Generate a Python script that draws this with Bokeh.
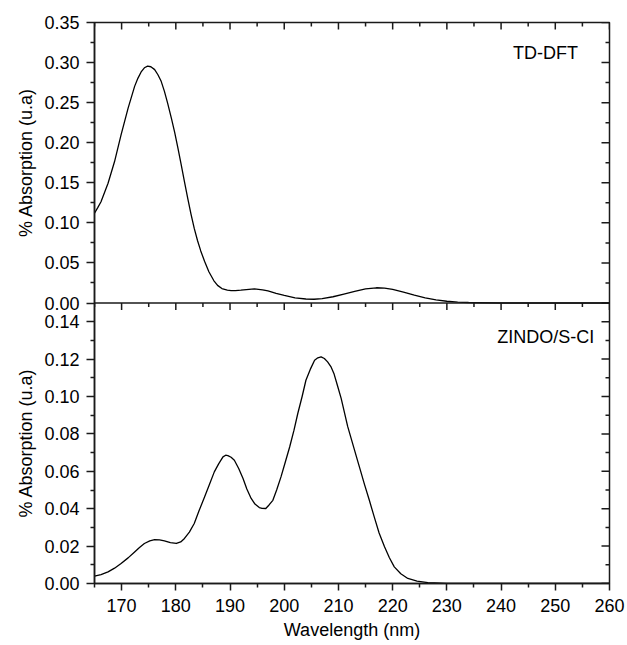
import math
from bokeh.plotting import figure
from bokeh.layouts import row, column
from bokeh.models import Range1d, FixedTicker, CustomJSTickFormatter, Span
from bokeh.embed import file_html
from bokeh.resources import INLINE
from bokeh.core.properties import value

# ---------------- data ----------------
wl_tddft = [165.0, 165.6, 166.2, 167.5, 168.7, 169.9, 171.2, 172.4, 173.0, 173.6,
            174.2, 174.8, 175.4, 176.1, 176.7, 177.3, 177.9, 178.5, 179.2, 179.8,
            180.4, 181.0, 181.6, 182.2, 182.8, 183.4, 184.0, 184.6, 185.3, 186.1,
            187.0, 187.7, 188.5, 189.5, 190.2, 191.0, 192.0, 193.5, 194.5, 196.0,
            197.0, 198.5, 200.0, 202.0, 204.0, 205.5, 207.0, 209.0, 211.0, 213.0,
            215.0, 217.0, 218.5, 220.0, 222.0, 224.0, 226.0, 228.0, 230.0, 232.0,
            234.0, 236.0, 240.0, 260.0]
abs_tddft = [0.112, 0.119, 0.1264, 0.1494, 0.1765, 0.2099, 0.2432, 0.2703, 0.2803, 0.2883,
             0.2935, 0.2955, 0.2948, 0.2912, 0.2848, 0.2766, 0.2640, 0.2490, 0.2300, 0.2125,
             0.1930, 0.1723, 0.151, 0.1306, 0.111, 0.0931, 0.078, 0.065, 0.052, 0.039,
             0.028, 0.022, 0.018, 0.016, 0.0155, 0.0155, 0.016, 0.017, 0.0175, 0.0165,
             0.015, 0.012, 0.0095, 0.0065, 0.005, 0.0047, 0.0055, 0.0078, 0.011, 0.0145,
             0.0175, 0.019, 0.0185, 0.017, 0.0135, 0.0098, 0.0065, 0.004, 0.0022, 0.0012,
             0.0006, 0.0003, 0.0, 0.0]

wl_zindo = [165.0, 166.2, 167.5, 168.7, 169.9, 171.2, 172.4, 173.3, 174.2, 175.2,
            176.1, 177.0, 177.9, 179.0, 180.1, 180.9, 181.6, 182.5, 183.4, 184.3,
            185.3, 186.2, 187.1, 187.9, 188.7, 189.2, 189.6, 190.2, 190.8, 191.6,
            192.4, 193.1, 193.9, 194.6, 195.4, 195.9, 196.6, 197.2, 197.9, 198.6,
            199.4, 200.2, 201.0, 201.8, 202.5, 203.3, 204.0, 204.8, 205.6, 206.2,
            206.8, 207.4, 208.0, 208.6, 209.2, 209.8, 210.5, 211.1, 211.7, 212.3,
            212.9, 213.5, 214.0, 214.8, 215.7, 216.6, 217.5, 218.5, 219.4, 220.3,
            221.5, 222.8, 224.5, 226.5, 230.0, 260.0]
abs_zindo = [0.0039, 0.0048, 0.0062, 0.0082, 0.0107, 0.0137, 0.0169, 0.0193, 0.0214, 0.0228,
             0.0235, 0.0233, 0.0228, 0.0219, 0.0214, 0.0222, 0.0241, 0.0275, 0.0321, 0.039,
             0.0463, 0.053, 0.0597, 0.064, 0.0677, 0.0686, 0.0684, 0.0675, 0.0659, 0.0615,
             0.0561, 0.0505, 0.0455, 0.0425, 0.0406, 0.0402, 0.0401, 0.042, 0.0445, 0.050,
             0.057, 0.065, 0.073, 0.082, 0.0909, 0.100, 0.1087, 0.1145, 0.1194, 0.1207,
             0.1212, 0.1203, 0.1185, 0.1160, 0.1120, 0.106, 0.099, 0.0915, 0.084, 0.078,
             0.072, 0.066, 0.061, 0.053, 0.0445, 0.0356, 0.027, 0.0196, 0.0138, 0.0089,
             0.0052, 0.0027, 0.0013, 0.0005, 0.0, 0.0]

x_major = [170, 180, 190, 200, 210, 220, 230, 240, 250, 260]
x_minor = [165, 175, 185, 195, 205, 215, 225, 235, 245, 255]
top_major = [0.00, 0.05, 0.10, 0.15, 0.20, 0.25, 0.30, 0.35]
top_minor = [0.025, 0.075, 0.125, 0.175, 0.225, 0.275, 0.325]
bot_major = [0.00, 0.02, 0.04, 0.06, 0.08, 0.10, 0.12, 0.14]
bot_minor = [0.01, 0.03, 0.05, 0.07, 0.09, 0.11, 0.13]

x_lo, x_hi = 165, 260
top_max = 0.35
bot_max = 0.15
panel_labels = ["TD-DFT", "ZINDO/S-CI"]
y_title = "% Absorption (u.a)"
x_title = "Wavelength (nm)"

# ---------------- layout: one frame, two stacked panels ----------------
# virtual main range: bottom panel occupies [0, 1], top panel [1, 2]
boundary = 1.0
FONT = "Liberation Sans"
AX = "#1a1a1a"
H = 645
BT, BB = 22, 62          # top / bottom borders of the main frame
TW = 40                  # width of the y-title strip
FH = H - BT - BB         # frame height

p = figure(width=627 - TW, height=H, x_range=Range1d(x_lo, x_hi),
           y_range=Range1d(0, 2 * boundary), output_backend="svg",
           toolbar_location=None, tools="",
           min_border_left=94 - TW, min_border_right=18, min_border_top=BT,
           min_border_bottom=BB)
p.extra_y_ranges = {
    "top": Range1d(-top_max, top_max),
    "bot": Range1d(0, 2 * bot_max),
}
p.grid.visible = False
p.outline_line_color = AX
p.outline_line_width = 1.5
p.background_fill_color = "white"
p.border_fill_color = "white"

yt_major = [boundary * t / bot_max for t in bot_major] + \
           [boundary + boundary * t / top_max for t in top_major]
yt_minor = [boundary * t / bot_max for t in bot_minor] + \
           [boundary + boundary * t / top_max for t in top_minor]
y_ticker = FixedTicker(ticks=yt_major, minor_ticks=yt_minor)
y_fmt = CustomJSTickFormatter(
    args=dict(b=boundary, bmax=bot_max, tmax=top_max),
    code="""
    if (tick < b - 1e-9) { return (tick / b * bmax).toFixed(2); }
    return ((tick - b) / b * tmax).toFixed(2);
    """)
x_ticker = FixedTicker(ticks=x_major, minor_ticks=x_minor)


def style_axis(ax):
    ax.axis_line_color = AX
    ax.axis_line_width = 1.5
    ax.major_tick_line_color = AX
    ax.major_tick_line_width = 1.5
    ax.minor_tick_line_color = AX
    ax.minor_tick_line_width = 1.5
    ax.major_label_text_font = FONT
    ax.major_label_text_color = "black"
    ax.axis_label_text_font = FONT
    ax.axis_label_text_font_style = "normal"
    ax.axis_label_text_color = "black"


# left axis
yl = p.yaxis[0]
style_axis(yl)
yl.ticker = y_ticker
yl.formatter = y_fmt
yl.major_tick_out = 8
yl.major_tick_in = 0
yl.minor_tick_out = 4
yl.minor_tick_in = 0
yl.major_label_standoff = 7
yl.major_label_text_font_size = "18px"

# bottom axis
xb = p.xaxis[0]
style_axis(xb)
xb.ticker = x_ticker
xb.major_tick_out = 7
xb.major_tick_in = 0
xb.minor_tick_out = 4
xb.minor_tick_in = 0
xb.major_label_standoff = 8
xb.major_label_text_font_size = "18px"
xb.axis_label = x_title
xb.axis_label_text_font_size = "18px"
xb.axis_label_standoff = 5

# inward ticks on the top edge, the right edge and the panel divider
top_edge = 2 * boundary
p.ray(x=x_major, y=[top_edge] * len(x_major), length=7, length_units="screen",
      angle=-math.pi / 2, line_color=AX, line_width=1.5)
p.ray(x=x_minor, y=[top_edge] * len(x_minor), length=4, length_units="screen",
      angle=-math.pi / 2, line_color=AX, line_width=1.5)
p.ray(x=[x_hi] * len(yt_major), y=yt_major, length=8, length_units="screen",
      angle=math.pi, line_color=AX, line_width=1.5)
p.ray(x=[x_hi] * len(yt_minor), y=yt_minor, length=4, length_units="screen",
      angle=math.pi, line_color=AX, line_width=1.5)
p.add_layout(Span(location=boundary, dimension="width", line_color=AX, line_width=1.5))
p.ray(x=x_major, y=[boundary] * len(x_major), length=7, length_units="screen",
      angle=-math.pi / 2, line_color=AX, line_width=1.5)
p.ray(x=x_minor, y=[boundary] * len(x_minor), length=4, length_units="screen",
      angle=-math.pi / 2, line_color=AX, line_width=1.5)

# curves
p.line(wl_tddft, abs_tddft, y_range_name="top", line_color="black", line_width=1.3,
       line_join="round")
p.line(wl_zindo, abs_zindo, y_range_name="bot", line_color="black", line_width=1.3,
       line_join="round")

# panel labels
p.text(x=[254.2], y=[0.312], text=[panel_labels[0]], y_range_name="top",
       text_font=value(FONT), text_font_size="18px", text_align="right",
       text_baseline="middle", text_color="black")
p.text(x=[257.2], y=[0.132], text=[panel_labels[1]], y_range_name="bot",
       text_font=value(FONT), text_font_size="18px", text_align="right",
       text_baseline="middle", text_color="black")


# y-axis titles, one per panel, as left-side titles of two narrow strips
def title_strip(h, top, bottom):
    s = figure(width=TW, height=h, output_backend="svg", toolbar_location=None,
               tools="", x_axis_type=None, y_axis_type=None,
               title=y_title, title_location="left",
               min_border_left=35, min_border_right=0,
               min_border_top=top, min_border_bottom=bottom)
    s.title.text_font = FONT
    s.title.text_font_size = "18px"
    s.title.text_font_style = "normal"
    s.title.text_color = "black"
    s.title.align = "center"
    s.title.standoff = 0
    s.grid.visible = False
    s.outline_line_color = None
    s.background_fill_color = "white"
    s.border_fill_color = "white"
    return s


h_top = BT + FH // 2
t_top = title_strip(h_top, BT, 0)
t_bot = title_strip(H - h_top, 0, BB)

layout = row(column(t_top, t_bot, spacing=0), p, spacing=0)
open("out.html", "w").write(file_html(layout, INLINE))
